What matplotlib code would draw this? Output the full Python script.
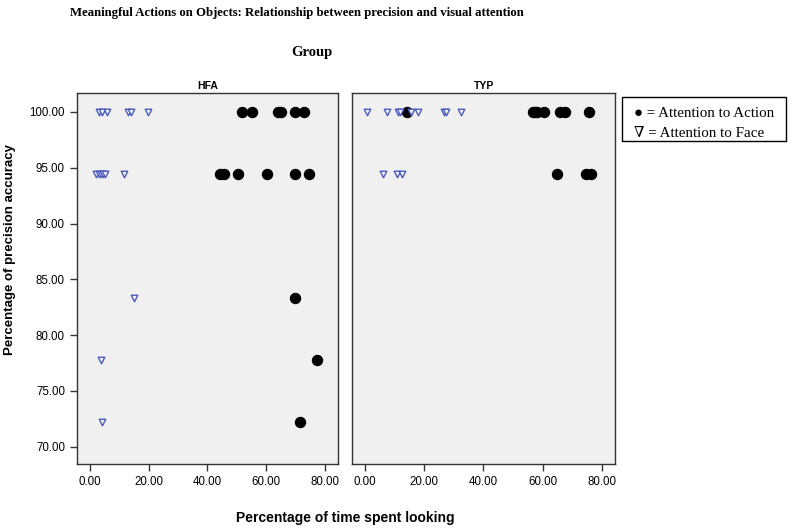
import matplotlib
matplotlib.use("Agg")
import matplotlib.pyplot as plt
from matplotlib.patches import Rectangle

# precision levels (18 trials)
# HFA group
hfa_face_x = [3.0, 4.0, 6.0, 13.0, 14.0, 19.7, 2.0, 3.0, 3.7, 4.4, 5.2, 11.7, 15.1, 3.8, 4.2]
hfa_face_y = [100, 100, 100, 100, 100, 100, 94.44, 94.44, 94.44, 94.44, 94.44, 94.44, 83.33, 77.78, 72.22]
hfa_act_x = [51.6, 55.2, 64.0, 65.0, 69.6, 72.8, 44.4, 45.5, 50.3, 60.3, 69.6, 74.6, 69.9, 77.1, 71.4]
hfa_act_y = [100, 100, 100, 100, 100, 100, 94.44, 94.44, 94.44, 94.44, 94.44, 94.44, 83.33, 77.78, 72.22]

# TYP group
typ_face_x = [0.8, 7.4, 11.0, 11.8, 15.5, 17.8, 26.6, 27.2, 32.3, 6.2, 10.8, 12.4]
typ_face_y = [100, 100, 100, 100, 100, 100, 100, 100, 100, 94.44, 94.44, 94.44]
typ_act_x = [14.1, 56.6, 57.5, 58.1, 60.3, 66.0, 67.6, 75.6, 64.9, 74.8, 76.2]
typ_act_y = [100, 100, 100, 100, 100, 100, 100, 100, 94.44, 94.44, 94.44]

x_ticks = [0, 20, 40, 60, 80]
y_ticks = [70, 75, 80, 85, 90, 95, 100]

sans = ["Liberation Sans", "DejaVu Sans"]
serif = ["Liberation Serif", "DejaVu Serif"]

fig = plt.figure(figsize=(8, 5.31), dpi=100)
ax1 = fig.add_axes([0.096, 0.126, 0.327, 0.699])
ax2 = fig.add_axes([0.440, 0.126, 0.329, 0.699])

panels = [(ax1, "HFA", hfa_face_x, hfa_face_y, hfa_act_x, hfa_act_y),
          (ax2, "TYP", typ_face_x, typ_face_y, typ_act_x, typ_act_y)]

for ax, name, fx, fy, axx, ay in panels:
    ax.set_facecolor("#f0f0f0")
    ax.scatter(axx, ay, s=52, color="black", zorder=3)
    ax.scatter(fx, fy, s=22, marker="v", facecolor="#f4f4fb",
               edgecolor="#4a5bbf", linewidth=1.0, zorder=3)
    ax.set_xlim(-4.4, 84.5)
    ax.set_ylim(68.45, 101.7)
    ax.set_xticks(x_ticks)
    ax.set_xticklabels(["%.2f" % v for v in x_ticks], fontsize=8.3, family=sans)
    ax.set_title(name, fontsize=7.5, fontweight="bold", family=sans, pad=3)
    for s in ax.spines.values():
        s.set_linewidth(1.0)
        s.set_color("#333333")
    ax.tick_params(direction="out", length=5, width=1, color="#333333")

ax1.set_yticks(y_ticks)
ax1.set_yticklabels(["%.2f" % v for v in y_ticks], fontsize=8.3, family=sans)
ax2.set_yticks([])

fig.text(0.087, 0.976, "Meaningful Actions on Objects: Relationship between precision and visual attention",
         fontsize=9.2, fontweight="bold", family=serif, ha="left", va="center")
fig.text(0.39, 0.902, "Group", fontsize=10.5, fontweight="bold", family=serif,
         ha="center", va="center")
fig.text(0.432, 0.024, "Percentage of time spent looking", fontsize=10,
         fontweight="bold", family=sans, ha="center", va="center")
fig.text(0.012, 0.53, "Percentage of precision accuracy", fontsize=9.5,
         fontweight="bold", family=sans, ha="center", va="center", rotation=90)

# legend box
fig.patches.append(Rectangle((0.778, 0.735), 0.204, 0.083, transform=fig.transFigure,
                             facecolor="white", edgecolor="black", linewidth=1.0))
fig.text(0.793, 0.787, "\u25cf = Attention to Action", fontsize=10.8, family=serif,
         ha="left", va="center")
fig.text(0.793, 0.749, "\u2207 = Attention to Face", fontsize=10.8, family=serif,
         ha="left", va="center")

fig.savefig("out.png", dpi=100)
